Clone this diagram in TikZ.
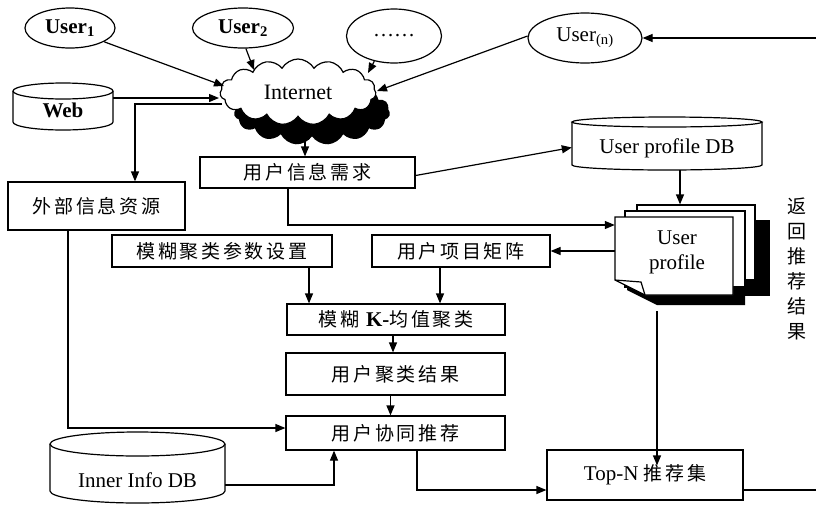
\documentclass[tikz,border=0pt]{standalone}
\usepackage{fontspec}
\setmainfont{Liberation Serif}
\newfontfamily\cjk[LetterSpace=14]{Noto Sans CJK SC}
\newfontfamily\cjkv{Noto Sans CJK SC}
\usetikzlibrary{shapes.geometric,shapes.symbols,arrows.meta,calc}
\newcommand\mycyl[6]{%
 \draw[ln,fill=white] ({#2},{#4+#6}) -- ({#2},{#5-#6}) .. controls ({#2},{#5-#6+0.5523*#6}) and ({(#2+#3)/2-0.5523*(#3-#2)/2},{#5}) .. ({(#2+#3)/2},{#5}) .. controls ({(#2+#3)/2+0.5523*(#3-#2)/2},{#5}) and ({#3},{#5-#6+0.5523*#6}) .. ({#3},{#5-#6}) -- ({#3},{#4+#6});
 \draw[ln] ({(#2+#3)/2},{#4+#6}) ellipse [x radius={(#3-#2)/2}, y radius={#6}];
 \node[inner sep=0pt, minimum width={(#3-#2)*1pt}, minimum height={(#5-#4)*1pt}] (#1) at ({(#2+#3)/2},{(#4+#5)/2}) {};
}
\begin{document}
\begin{tikzpicture}[x=1pt,y=-1pt,
  ln/.style={line width=1.2pt},
  box/.style={draw, line width=1.2pt, rectangle, inner sep=0pt, font=\fontsize{19}{22}\cjk},
  usr/.style={draw, ellipse, line width=1.2pt, inner sep=0pt, font=\fontsize{21}{23}\selectfont\bfseries},
  arr/.style={line width=1.2pt, -{Triangle[length=10pt,width=8pt]}},
  lat/.style={font=\fontsize{21}{23}\selectfont},
  cl/.style={cloud, cloud puffs=15, cloud puff arc=120, aspect=2.2, inner sep=0pt, minimum width=156pt, minimum height=66pt}]
\useasboundingbox (0,0) rectangle (816,504);

% users
\node[usr, minimum width=90pt, minimum height=40pt] (u1) at (70,28) {User\textsubscript{1}};
\node[usr, minimum width=101pt, minimum height=40pt] (u2) at (243,28) {User\textsubscript{2}};
\node[usr, minimum width=95pt, minimum height=54pt] (udots) at (394,36) {\mdseries\dots\dots};
\node[usr, minimum width=114pt, minimum height=50pt] (un) at (585,38) {\mdseries User\textsubscript{(n)}};

% cloud
\node[cl, fill=black] (cloudsh) at (312,112) {};
\node[cl, draw, fill=white, line width=1.2pt] (cloud) at (298,92) {};
\node[font=\fontsize{22}{24}\selectfont, inner sep=0pt] (cloudt) at (cloud.center) {Internet};

% cylinders
\mycyl{web}{13}{113}{83}{130}{8}
\node[lat, font=\fontsize{21}{23}\selectfont\bfseries] (webt) at (63,110) {Web};
\mycyl{updb}{572}{762}{117}{170}{5}
\node[lat] (updbt) at (667,148) {User profile DB};
\mycyl{inner}{50}{225}{432}{503}{12}
\node[lat] (innert) at (137.5,480) {Inner Info DB};

% boxes
\node[box, minimum width=215pt, minimum height=31pt] (req) at (307.5,172.5) {用户信息需求};
\node[box, minimum width=177pt, minimum height=48pt] (ext) at (96.5,206) {外部信息资源};
\node[box, minimum width=220pt, minimum height=32pt] (param) at (222,251) {模糊聚类参数设置};
\node[box, minimum width=178pt, minimum height=32pt] (matrix) at (461,251) {用户项目矩阵};
\node[box, minimum width=218pt, minimum height=31pt] (kmeans) at (396,319.5) {模糊 {\fontsize{21}{23}\rmfamily\bfseries K-}均值聚类};
\node[box, minimum width=219pt, minimum height=42pt] (result) at (395.5,374) {用户聚类结果};
\node[box, minimum width=219pt, minimum height=34pt] (cf) at (395.5,433) {用户协同推荐};
\node[box, minimum width=196pt, minimum height=50pt] (topn) at (645,475) {{\fontsize{21}{23}\rmfamily Top-N }推荐集};

% user profile documents
\fill[black] (652,220) rectangle (770,296);
\fill[black] (627,227) -- (745,227) -- (745,305) -- (657,305) -- (627,290) -- cycle;
\node[draw, line width=1.2pt, fill=white, minimum width=118pt, minimum height=75pt] (pb) at (696,242.5) {};
\node[draw, line width=1.2pt, fill=white, minimum width=120pt, minimum height=76pt] (pm) at (685,249) {};
\node[minimum width=118pt, minimum height=78pt, inner sep=0pt] (profile) at (674,256) {};
\draw[ln, fill=white] (615,217) -- (733,217) -- (733,295) -- (645,295) -- (615,280) -- cycle;
\draw[ln] (615,280) -- (641,282) -- (645,295);
\node[lat, align=center, inner sep=0pt] (proft) at (677,252) {User\\[2pt]profile};

% vertical text
\node[font=\fontsize{19}{25}\cjkv, align=center, inner sep=0pt] (ret) at (797,268.5) {返\\回\\推\\荐\\结\\果};

% coordinates
\coordinate (rin) at (816,38);
\coordinate (rout) at (816,490);
\coordinate (c1) at (224,86);
\coordinate (c2) at (254,70);
\coordinate (c3) at (368,73);
\coordinate (c4) at (377,91);
\coordinate (c5) at (219,98);
\coordinate (c6) at (222,104);
\coordinate (c7) at (305,130);

% connectors
\draw[arr] (u1.-22) -- (c1);
\draw[arr] (u2.-82) -- (c2);
\draw[arr] (udots.-128) -- (c3);
\draw[arr] (un.178) -- (c4);
\draw[arr] (rin) -- (un.east);
\draw[arr] ([yshift=8.5]web.east) -- (c5);
\draw[arr] (c6) -| ([xshift=38.5]ext.north);
\draw[arr] (c7) -- (c7 |- req.north);
\draw[arr] ([xshift=-19.5]req.south) |- ([yshift=31]profile.west);
\draw[arr] ([yshift=-3]req.east) -- ([yshift=-4]updb.west);
\draw[arr] ([xshift=13]updb.south) -- ([xshift=-16]pb.north);
\draw[arr] ([yshift=5]profile.west) -- (matrix.east);
\draw[arr] ([xshift=-21]matrix.south) -- ([xshift=-21]matrix.south |- kmeans.north);
\draw[arr] ([xshift=87]param.south) -- ([xshift=87]param.south |- kmeans.north);
\draw[arr] ([xshift=-3]kmeans.south) -- ([xshift=-3]kmeans.south |- result.north);
\draw[arr] ([xshift=-5]result.south) -- ([xshift=-5]result.south |- cf.north);
\draw[arr] ([xshift=-28.5]ext.south) |- ([yshift=5]cf.west);
\draw[arr] ([yshift=-17.5]inner.east) -| ([xshift=-61.5]cf.south);
\draw[arr] ([xshift=21.5]cf.south) |- ([yshift=-15]topn.west);
\draw[arr] ([xshift=-17,yshift=-16]profile.south) -- ([xshift=-17,yshift=-16]profile.south |- topn.north);
\draw[ln] ([yshift=-15]topn.east) -- (rout);
\end{tikzpicture}
\end{document}
